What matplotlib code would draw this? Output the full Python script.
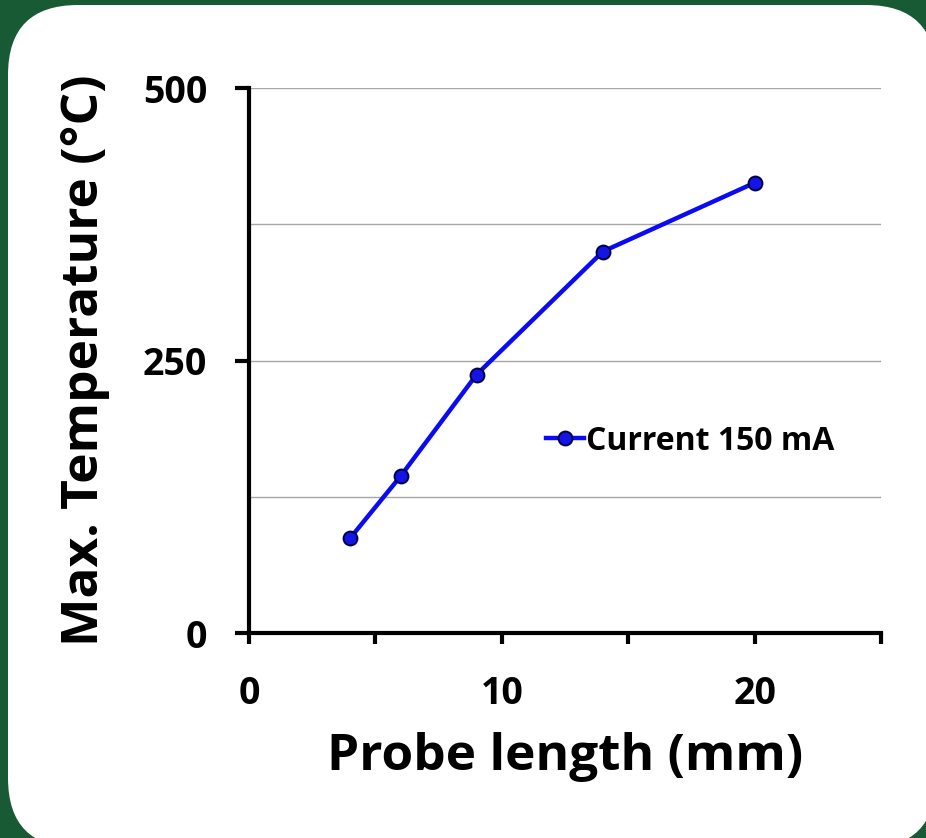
import matplotlib.pyplot as plt
from matplotlib.patches import FancyBboxPatch

# data
probe_len = [4, 6, 9, 14, 20]
max_temp = [87, 144, 237, 350, 413]
series_name = "Current 150 mA"
xticks_major = [0, 10, 20]
xticks_all = [0, 5, 10, 15, 20, 25]
yticks_major = [0, 250, 500]
ygrid = [125, 250, 375, 500]

plt.rcParams['font.family'] = ['Open Sans', 'DejaVu Sans']
plt.rcParams['font.weight'] = 'bold'

fig = plt.figure(figsize=(9.26, 8.38), dpi=100)
fig.patch.set_facecolor('#175a33')

# white rounded panel behind the chart
panel = FancyBboxPatch((0.08, -0.10), 9.28, 8.43,
                       boxstyle="round,pad=0,rounding_size=0.7",
                       transform=fig.dpi_scale_trans,
                       facecolor='white', edgecolor='none', zorder=-5)
fig.patches.append(panel)

ax = fig.add_axes([249/926, 1-633/838, (881-249)/926, (633-88)/838])
ax.set_facecolor('none')

for g in ygrid:
    ax.axhline(g, color='#a6a6a6', lw=1.0, zorder=1)

ax.plot(probe_len, max_temp, color='#0a0af5', lw=3.2, marker='o',
        markersize=10, markerfacecolor='#1414e6', markeredgecolor='#00004a',
        markeredgewidth=1.4, label=series_name, zorder=3, clip_on=False)

ax.set_xlim(0, 25)
ax.set_ylim(0, 500)

ax.spines['top'].set_visible(False)
ax.spines['right'].set_visible(False)
for s in ['left', 'bottom']:
    ax.spines[s].set_linewidth(3)
    ax.spines[s].set_color('black')

ax.set_xticks(xticks_all)
ax.set_xticklabels([str(t) if t in xticks_major else '' for t in xticks_all])
ax.set_yticks(yticks_major)
ax.set_yticklabels([str(t) for t in yticks_major])
ax.tick_params(axis='x', direction='out', length=8, width=3, pad=22,
               labelsize=27)
ax.tick_params(axis='y', direction='out', length=10, width=3, pad=20,
               labelsize=27)
for lab in ax.get_xticklabels() + ax.get_yticklabels():
    lab.set_fontweight('bold')

ax.set_xlabel("Probe length (mm)", fontsize=37, fontweight='bold', labelpad=14)
ax.set_ylabel("Max. Temperature (°C)", fontsize=37, fontweight='bold', labelpad=24)

leg = ax.legend(loc='center left', bbox_to_anchor=(0.47, 0.352), frameon=False,
                handlelength=1.2, handletextpad=0.05, borderpad=0,
                borderaxespad=0, prop={'size': 23, 'weight': 'bold'})

fig.savefig('out.png', dpi=100, facecolor=fig.get_facecolor())
